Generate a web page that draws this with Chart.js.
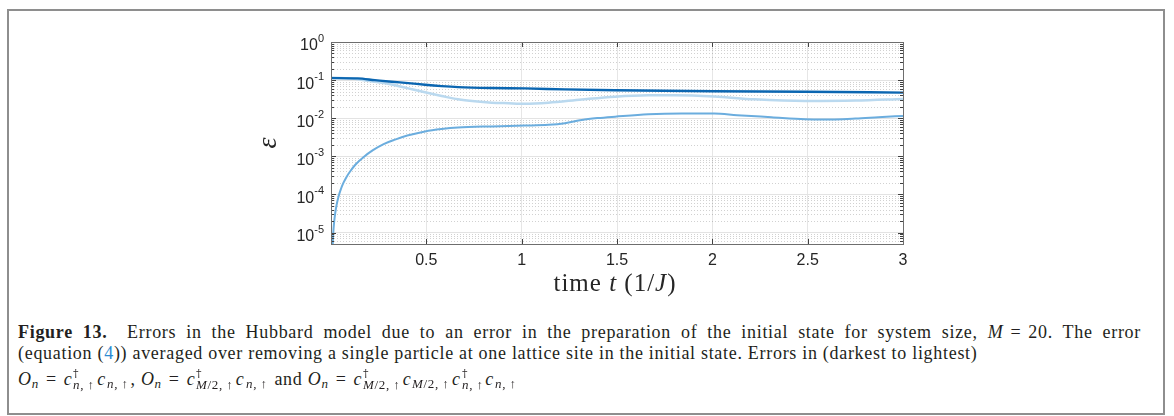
<!DOCTYPE html>
<html>
<head>
<meta charset="utf-8">
<script src="https://cdn.jsdelivr.net/npm/chart.js@4.4.1/dist/chart.umd.min.js"></script>
<style>
  body { margin: 0; background: #fff; }
  #page { position: relative; width: 1174px; height: 416px; overflow: hidden; background: #fff; }
  #frame { position: absolute; left: 7px; top: 9px; width: 1158px; height: 406px; border: 2px solid #8e8e8e; box-sizing: border-box; }
  #chart-box { position: absolute; left: 240px; top: 30px; width: 680px; height: 275px; }
  #x-title { position: absolute; left: 415px; width: 400px; top: 268px; text-align: center;
    font-family: "Liberation Serif", serif; font-size: 25px; letter-spacing: 1px; color: #262626; line-height: 30px; }
  .cap { position: absolute; left: 18px; font-family: "Liberation Serif", serif; font-size: 18px;
    letter-spacing: 0.7px; line-height: 20px; color: #231f20; white-space: nowrap; }
  .cap.just { width: 1123px; white-space: normal; text-align: justify; text-align-last: justify; }
  .ref { color: #2b8ad2; }
  .sub { font-size: 13px; vertical-align: -3px; }
  .ss { display: inline-flex; flex-direction: column; vertical-align: 8px; font-size: 13px; line-height: 11px;
    margin: 0 2px 0 1px; color: #231f20; will-change: transform; }
  .ss span { display: block; }
  .dg { font-family: "DejaVu Serif", serif; font-size: 11px; }
  .eq { margin: 0 7px; }
</style>
</head>
<body>
<div id="page">
  <div id="frame"></div>
  <div id="chart-box"><canvas id="errChart"></canvas></div>
  <div id="x-title">time <i>t</i> (1/<i>J</i>)</div>

  <div class="cap just" style="top:322px"><b>Figure 13.</b>&ensp; Errors in the Hubbard model due to an error in the preparation of the initial state for system size, <i>M</i><span class="eq">=</span>20. The error</div>
  <div class="cap" style="top:343px">(equation (<span class="ref">4</span>)) averaged over removing a single particle at one lattice site in the initial state. Errors in (darkest to lightest)</div>
  <div class="cap" style="top:367px"><i>O<span class="sub">n</span></i><span class="eq">=</span><i>c</i><span class="ss"><span class="dg">†</span><span><i>n</i>,&thinsp;↑</span></span><i>c</i><span class="ss"><span>&nbsp;</span><span><i>n</i>,&thinsp;↑</span></span>, <i>O<span class="sub">n</span></i><span class="eq">=</span><i>c</i><span class="ss"><span class="dg">†</span><span><i>M</i>/2,&thinsp;↑</span></span><i>c</i><span class="ss"><span>&nbsp;</span><span><i>n</i>,&thinsp;↑</span></span> and <i>O<span class="sub">n</span></i><span class="eq">=</span><i>c</i><span class="ss"><span class="dg">†</span><span><i>M</i>/2,&thinsp;↑</span></span><i>c</i><span class="ss"><span>&nbsp;</span><span><i>M</i>/2,&thinsp;↑</span></span><i>c</i><span class="ss"><span class="dg">†</span><span><i>n</i>,&thinsp;↑</span></span><i>c</i><span class="ss"><span>&nbsp;</span><span><i>n</i>,&thinsp;↑</span></span></div>
</div>

<script>
// values (time t in 1/J, error epsilon)
const tDark = [0, 0.14, 0.23, 0.318, 0.405, 0.493, 0.58, 0.666, 0.843, 1.017, 1.227, 1.49, 2.0, 2.486, 3.0];
const epsDark = [0.113, 0.111, 0.1, 0.0905, 0.0835, 0.0756, 0.0697, 0.0656, 0.062, 0.0606, 0.057, 0.054, 0.051, 0.0497, 0.047];

const tMid = [0.009, 0.012, 0.016, 0.022, 0.03, 0.04, 0.05, 0.065, 0.08, 0.1, 0.13, 0.17, 0.22, 0.276, 0.336, 0.4, 0.493,
  0.58, 0.666, 0.843, 1.017, 1.14, 1.227, 1.315, 1.4, 1.49, 1.664, 1.84, 2.01, 2.13, 2.31, 2.486, 2.573, 2.75, 2.87, 3.0];
const epsMid = [5e-6, 1e-5, 1.8e-5, 3.2e-5, 5.5e-5, 9e-5, 1.3e-4, 2e-4, 2.8e-4, 4e-4, 6.2e-4, 9.5e-4, 1.45e-3, 2.1e-3, 2.75e-3, 3.5e-3, 4.5e-3,
  5.2e-3, 5.7e-3, 6.1e-3, 6.4e-3, 6.7e-3, 7.4e-3, 9.0e-3, 0.0101, 0.011, 0.0127, 0.0133, 0.0132, 0.012, 0.0106, 0.0094, 0.0092, 0.0098, 0.0106, 0.0115];

const tLight = [0, 0.14, 0.23, 0.318, 0.405, 0.493, 0.58, 0.666, 0.754, 0.843, 0.93, 1.017, 1.14, 1.315, 1.49,
  1.664, 1.8, 2.01, 2.22, 2.486, 2.75, 3.0];
const epsLight = [0.117, 0.106, 0.0905, 0.077, 0.0607, 0.0478, 0.0383, 0.0313, 0.0277, 0.0256, 0.0247, 0.024, 0.0256, 0.031, 0.0367,
  0.0398, 0.04, 0.0372, 0.0313, 0.0283, 0.029, 0.032];

const xTickValues = [0.5, 1, 1.5, 2, 2.5, 3];
const yDecades = [-5, -4, -3, -2, -1, 0];
const yMinorSteps = [2, 3, 4, 5, 6, 7, 8, 9];
const yMin = 5e-6;
const yMax = 1;

const lineColors = ["#0b66b1", "#6badde", "#bad9ef"];

function toPoints(ts, vs) {
  return ts.map((t, i) => ({ x: t, y: vs[i] }));
}

function isDecade(v) {
  const l = Math.log10(v);
  return Math.abs(l - Math.round(l)) < 1e-9;
}

// decades plus 2..9 minors, kept inside the y range
const yTickValues = [];
[-6].concat(yDecades).forEach((d) => {
  const base = Math.pow(10, d);
  if (base >= yMin && base <= yMax) yTickValues.push(base);
  yMinorSteps.forEach((m) => {
    const v = m * base;
    if (v >= yMin && v <= yMax) yTickValues.push(v);
  });
});
yTickValues.sort((a, b) => a - b);

const matlabAxes = {
  id: "matlabAxes",
  beforeDatasetsDraw(chart) {
    const { ctx, chartArea: area } = chart;
    const yScale = chart.scales.y;
    ctx.save();
    ctx.strokeStyle = "rgba(0,0,0,0.18)";
    ctx.lineWidth = 1;
    ctx.setLineDash([1, 2]);
    yTickValues.forEach((v) => {
      if (isDecade(v)) return;
      const py = Math.round(yScale.getPixelForValue(v)) + 0.5;
      ctx.beginPath();
      ctx.moveTo(area.left, py);
      ctx.lineTo(area.right, py);
      ctx.stroke();
    });
    ctx.restore();
  },
  afterDatasetsDraw(chart) {
    const { ctx, chartArea: area } = chart;
    const yScale = chart.scales.y;
    const xScale = chart.scales.x;
    ctx.save();
    ctx.strokeStyle = "#404040";
    ctx.lineWidth = 1;

    // inward tick marks on all four sides
    yTickValues.forEach((v) => {
      const py = Math.round(yScale.getPixelForValue(v)) + 0.5;
      const len = isDecade(v) ? 5 : 3;
      ctx.beginPath();
      ctx.moveTo(area.left, py);
      ctx.lineTo(area.left + len, py);
      ctx.moveTo(area.right, py);
      ctx.lineTo(area.right - len, py);
      ctx.stroke();
    });
    xTickValues.forEach((v) => {
      const px = Math.round(xScale.getPixelForValue(v)) + 0.5;
      ctx.beginPath();
      ctx.moveTo(px, area.bottom);
      ctx.lineTo(px, area.bottom - 5);
      ctx.moveTo(px, area.top);
      ctx.lineTo(px, area.top + 5);
      ctx.stroke();
    });

    ctx.strokeStyle = "#6e6e6e";
    ctx.strokeRect(Math.round(area.left) + 0.5, Math.round(area.top) + 0.5,
      Math.round(area.right - area.left), Math.round(area.bottom - area.top));

    // y tick labels as 10 with a raised exponent
    ctx.fillStyle = "#262626";
    ctx.textAlign = "right";
    ctx.textBaseline = "middle";
    yDecades.forEach((d) => {
      const py = yScale.getPixelForValue(Math.pow(10, d));
      const exp = String(d);
      const right = area.left - 7;
      ctx.font = '11px "Liberation Sans"';
      const ew = ctx.measureText(exp).width;
      ctx.fillText(exp, right, py - 3);
      ctx.font = '16px "Liberation Sans"';
      ctx.fillText("10", right - ew, py + 4);
    });
    ctx.restore();
  },
};

const chart = new Chart(document.getElementById("errChart"), {
  type: "line",
  data: {
    datasets: [
      { data: toPoints(tDark, epsDark), borderColor: lineColors[0], borderWidth: 2.4 },
      { data: toPoints(tMid, epsMid), borderColor: lineColors[1], borderWidth: 2 },
      { data: toPoints(tLight, epsLight), borderColor: lineColors[2], borderWidth: 2.5 },
    ],
  },
  options: {
    responsive: true,
    maintainAspectRatio: false,
    animation: false,
    parsing: false,
    elements: {
      point: { radius: 0 },
      line: { cubicInterpolationMode: "monotone", fill: false },
    },
    layout: { padding: { top: 12, right: 17, left: 0, bottom: 0 } },
    plugins: { legend: { display: false }, tooltip: { enabled: false } },
    scales: {
      x: {
        type: "linear",
        min: 0,
        max: 3,
        afterBuildTicks: (scale) => {
          scale.ticks = xTickValues.map((v) => ({ value: v }));
        },
        afterFit: (scale) => {
          scale.height = 61;
        },
        ticks: {
          color: "#262626",
          font: { family: "Liberation Sans", size: 16 },
          padding: 7,
          maxRotation: 0,
          callback: (v) => String(v),
        },
        grid: { color: "#e6e6e6", drawTicks: false },
        border: { display: false },
      },
      y: {
        type: "logarithmic",
        min: yMin,
        max: yMax,
        afterBuildTicks: (scale) => {
          scale.ticks = yTickValues.map((v) => ({ value: v }));
        },
        afterFit: (scale) => {
          scale.width = 91;
        },
        ticks: { display: false },
        grid: {
          color: (c) => (c.tick && isDecade(c.tick.value) ? "#e3e3e3" : "rgba(0,0,0,0)"),
          drawTicks: false,
        },
        border: { display: false },
        title: {
          display: true,
          text: "ε",
          color: "#262626",
          font: { family: "Liberation Serif", style: "italic", size: 28 },
          padding: { top: 12, bottom: 0 },
        },
      },
    },
  },
  plugins: [matlabAxes],
});
</script>
</body>
</html>
